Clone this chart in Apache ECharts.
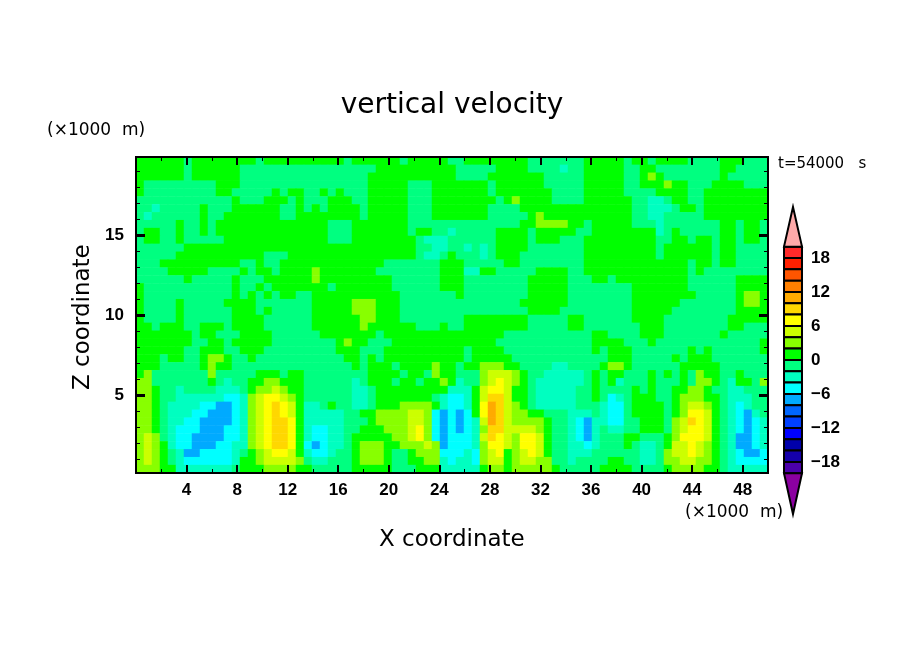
<!DOCTYPE html>
<html>
<head>
<meta charset="utf-8">
<style>
  html, body { margin: 0; padding: 0; background: #fff; }
  #chart { width: 904px; height: 654px; }
</style>
<script src="https://cdn.jsdelivr.net/npm/echarts@6/dist/echarts.min.js"></script>
</head>
<body>
<div id="chart"></div>
<script>
// contour bands, top to bottom
const levelEdges = [20, 18, 16, 14, 12, 10, 8, 6, 4, 2, 0, -2, -4, -6, -8, -10, -12, -14, -16, -18, -20];
const bandColors = ['#FF2A2A', '#FF2000', '#FF5500', '#FF8000', '#FFAA00', '#FFD700', '#FFFF00', '#CCFF00', '#88FF00', '#00FF00',
    '#00FF80', '#00FFC0', '#00FFFF', '#00AAFF', '#0066FF', '#0040FF', '#0000FF', '#0000AA', '#1500AA', '#4B00AA'];
const overColor = '#FFAAAA';
const underColor = '#8B00A0';

// one letter per cell, the middle of the band
const cellValues = {a: -7, b: -5, c: -3, '.': -1, o: 1, f: 3, g: 5, h: 7, i: 9, j: 11};

// x = 0-20 km (40 cells), rows from the top of the domain down
const westRows = [
    'oooooo.ooo ooooo.oooo oooooo.ooo ooo.ooooo.',
    'oooooo.ooo ooo....... .......... oooooooooo',
    'oooooo.ooo ooo....... .........o oooooooooo',
    'o......... ooo....... .........o oooo...ooo',
    'o......... oo.....o.o o..o.o...o oooo...ooo',
    '.......... ..o...ooo. o...ooo..o oooo...ooo',
    '..c.....o. ..oooooo.. o.o.oooo.o oooo...ooo',
    '.c......o. .ooooooo.. oooooooo.o oooo...ooo',
    '.....o..o. oooooooooo oooo...ooo oooo......',
    '.oo..o..o. oooooooooo oooo...ooo oooo.oo..c',
    '.oo..o.... .ooooooooo oooo...ooo ooooo.ccc.',
    '......oooo oooooooooo oooooooooo ooooo..cc.',
    '.....ooooo oooooo...o oooooooooo ooooo.cc.o',
    '...ooooooo ooo..o..oo oooooooooo o.......oo',
    '....ooooo. ...o.oo.oo oofooooooo ........oo',
    '......o... ..o...oooo oofooooooo oo......oo',
    'o......... ..o..o.ooo oooo.ooooo oo......oo',
    'o......... ..o.o.o.oo ..oooooooo ooo.......',
    'o....o.... .oooo..... ..ooooofff ooo.......',
    'o....o.... ..ooo.o... ..ooooofff ooo.......',
    'o....o.... ..oooo.... ..ooooooff ooo.......',
    'oo.ooo..oo o.oooo.... ..oooooofo ooooo...o.',
    'ooooooo.oo ...oooo... ...ooooooo .ooooooooo',
    'ooooooo..o o.ooooo... .....ofoo. ..oooooooo',
    'oooooo..oo o..ooo.... .....ooo.. .ooooooooo',
    'ooo.oo..of fo..o..... ......oo.o .ooooooooo',
    'ooo.....of oo........ .......o.o oo.oooofoo',
    'of.......f .....ooo.o o........o ooo.oo.foo',
    'ff.......o .c..ooffoo o......c.o oo.oo.oofo',
    'ffo..c.... ccc.offgfo o......cc. oooooooooc',
    'ffo..ccccc cbbcfghhgf o......cc. ooooooo.cb',
    'ffo.ccccbb aabcfghihg occ.o..cc. oooffffocb',
    'ffo.cccbba aabcfghihg occccc..oo ffffggfbab',
    'ffo.ccbbaa aabcfghiih occccc...o ffffggfbab',
    'ffo.cbbbaa abbcfghiih ocbbcc..oo offfghfbab',
    'fgf.cbbaaa abbcfghiih ocbbcc.ooo ooffghfbab',
    'fgfocbbaaa bbccfghiih obabcc.off foofffgfab',
    'fgfo.caabb bbc.ofghhg ocbbc..off fo..offfbb',
    'fgfo.cbbbb bbcoofgggg f.cc...off fo..ooffcb',
    'fffooccccc cc.oooffff oo.....ooo oo...ooocc'
];

// x = 20-50 km (39 cells), same rows
const eastRows = [
    '.oooooooo. ......oooo o.oo.oooo. ...ooo...',
    '.....oooo. ...c..oooo o..oo..... ...oo....',
    '....oooooo o.....oooo o..ofo.... ...o.....',
    'oooo.ooooo o.....oooo o..ooofoo. ..oooo...',
    'oooo.ooooo oo....oooo o....oooo. .oooooooo',
    'ooooo.ofoo oo....oooo oo..cc.oo. .oooooooo',
    'oooo....oo oooooooooo oo..ccc.oo .oooooooo',
    'oooo.....o fooooooooo oo..cc.... .oooooooo',
    '........oo ffffoo.ooo oo...c.... ...oo.oo.',
    '.....oooo. ooooo..ooo oooooc.o.. ...oo.oo.',
    '.....oooo. ooo...oooo ooooo..oo. oo.oo.oo.',
    '.c.c.oooo. ......oooo ooooo.oooo oo.oo....',
    '...c.ooo.. ......oooo ooooo.oooo oo.oo....',
    'o.....oo.. ......oooo ooooooooo. oo.oo....',
    'occoo..... oooo..oooo ooooooooo. o........',
    'o........o oooo...oo. ooooooooo. .....oooo',
    'o........o oooo...... ..ooooooo. .....oooo',
    'o........o oooo...... ..oooooooo .....offo',
    '........oo oooo...... ..oooooo.. .....offo',
    '.........o ooo....... ..ooooo... .....oooo',
    '.oooooooo. ....oo.... ..oooo.... ....ooooo',
    '.oooooooo. ....oo.... ...ooo.... ....oo...',
    'oooooo.... .......oo. ...ooo.... ...o.....',
    'ooooo..... .......ooo o...o..... ........o',
    'o.oooo.... .......o.o oo.......o .o......o',
    'o.ooooo... .........o oo.....o.o oo.......',
    '.oofffoo.. ..cc....of fo......oo ooo......',
    '...fgggfo. .ccccc.o.o o...o.o.o. foo..o...',
    'c..fghgfo. cccccc.o.o c...o...o. ffo.coo.f',
    'ccoghhgoo. ccccc..o.. ..o.o..oof fo..cc...',
    'bcogiigoo. ccccc..o.b c.ooo..off foo.ccc..',
    'bcohjigfo. ccccc...cb b.oooo.ofg gfo.cbc..',
    'abohjigffo o...ccc.cb b.oooo.ofh hgo.cbac.',
    'abcgjigfff fo..cbaccb b..ooo.fgi hgo.cbabc',
    'abcfiigggg fo..cbac.c c..ooo.fgh hgo.cbabc',
    'bbcgihgfhh go..cbac.. .oo...ofhh hgo.caabc',
    'bbcfhhgfhh go..ccbc.. .o.cc.oggh gfo.caabc',
    'bcbfghofgh go..ccc... ...cc.fggh gfo.cbaab',
    'ccbfggofgg ff..c....o o..cc.ffgg ffo.cbbbb',
    'cccoffofff ffo.....oo oo....offf foo.ccccc'
];

const xTicks = [4, 8, 12, 16, 20, 24, 28, 32, 36, 40, 44, 48];
const xMinorTicks = [2, 6, 10, 14, 18, 22, 26, 30, 34, 38, 42, 46];
const zTicks = [5, 10, 15];
const zMinorTicks = [1, 2, 3, 4, 6, 7, 8, 9, 11, 12, 13, 14, 16, 17, 18, 19];
const barTicks = [18, 12, 6, 0, -6, -12, -18];

const labelFont = '"Liberation Sans Narrow", "Liberation Sans"';
const plotFont = 'DejaVu Sans';

const rows = westRows.map((row, i) => (row + eastRows[i]).replace(/ /g, ''));
const cells = [];
rows.forEach((row, r) => {
    row.split('').forEach((ch, c) => cells.push([c, r, cellValues[ch]]));
});

const pieces = bandColors.map((color, i) => ({gte: levelEdges[i + 1], lt: levelEdges[i], color: color}));

// the colour bar: 20 boxes plus the two end arrows
const barItems = bandColors.map((color, i) => [levelEdges[i + 1], levelEdges[i], color, 'box']);
barItems.push([20, 27, overColor, 'arrow']);
barItems.push([-20, -27.2, underColor, 'arrow']);

function renderBar(params, api) {
    const lo = api.value(0);
    const hi = api.value(1);
    const item = barItems[params.dataIndex];
    const style = {fill: item[2], stroke: '#000', lineWidth: 2};
    if (item[3] === 'arrow') {
        return {
            type: 'polygon',
            shape: {points: [api.coord([0, lo]), api.coord([1, lo]), api.coord([0.5, hi])]},
            style: style
        };
    }
    const a = api.coord([0, hi]);
    const b = api.coord([1, lo]);
    return {type: 'rect', shape: {x: a[0], y: a[1], width: b[0] - a[0], height: b[1] - a[1]}, style: style};
}

// ticks point into the plot on all four sides
function frameAxis(position, range, ticks, length, width, labelled, margin) {
    return {
        type: 'value',
        position: position,
        min: range[0],
        max: range[1],
        z: 10,
        splitLine: {show: false},
        axisLine: {show: true, onZero: false, lineStyle: {color: '#000', width: 2}},
        axisTick: {show: true, inside: true, length: length, customValues: ticks, lineStyle: {color: '#000', width: width}},
        axisLabel: labelled
            ? {show: true, customValues: ticks, color: '#000', fontFamily: labelFont, fontWeight: 'bold', fontSize: 17, margin: margin}
            : {show: false}
    };
}

const xRange = [0, 50];
const zRange = [0.125, 19.875];

const option = {
    animation: false,
    backgroundColor: '#fff',
    title: {
        text: 'vertical velocity',
        left: 'center',
        top: 87,
        textStyle: {fontFamily: plotFont, fontWeight: 'normal', fontSize: 28, color: '#000'}
    },
    grid: [
        {left: 136, top: 157, width: 632, height: 316},
        {left: 784, top: 207, width: 18, height: 307}
    ],
    xAxis: [
        {type: 'category', show: false, data: rows[0].split('').map((_, i) => i)},
        frameAxis('bottom', xRange, xTicks, 8, 2, true, 9),
        frameAxis('bottom', xRange, xMinorTicks, 4, 1, false),
        frameAxis('top', xRange, xTicks, 8, 2, false),
        frameAxis('top', xRange, xMinorTicks, 4, 1, false),
        {type: 'value', gridIndex: 1, show: false, min: 0, max: 1}
    ],
    yAxis: [
        {type: 'category', show: false, inverse: true, data: rows.map((_, i) => i)},
        frameAxis('left', zRange, zTicks, 9, 3, true, 12),
        frameAxis('left', zRange, zMinorTicks, 4, 1, false),
        frameAxis('right', zRange, zTicks, 9, 3, false),
        frameAxis('right', zRange, zMinorTicks, 4, 1, false),
        {
            type: 'value',
            gridIndex: 1,
            position: 'right',
            min: -27.2,
            max: 27,
            splitLine: {show: false},
            axisLine: {show: false},
            axisTick: {show: false},
            axisLabel: {
                show: true,
                customValues: barTicks,
                margin: 9,
                color: '#000',
                fontFamily: labelFont,
                fontWeight: 'bold',
                fontSize: 17,
                formatter: v => String(v).replace('-', '\u2212')
            }
        }
    ],
    visualMap: {
        show: false,
        type: 'piecewise',
        seriesIndex: 0,
        dimension: 2,
        pieces: pieces
    },
    series: [
        {
            type: 'heatmap',
            xAxisIndex: 0,
            yAxisIndex: 0,
            data: cells,
            progressive: 0,
            silent: true
        },
        {
            type: 'custom',
            xAxisIndex: 5,
            yAxisIndex: 5,
            clip: false,
            silent: true,
            renderItem: renderBar,
            encode: {y: [0, 1]},
            data: barItems.map(b => [b[0], b[1]])
        }
    ],
    graphic: [
        {type: 'text', left: 47, top: 122, style: {text: '(\u00d71000  m)', font: '17px "' + plotFont + '"', fill: '#000'}},
        {type: 'text', left: 685, top: 504, style: {text: '(\u00d71000  m)', font: '17px "' + plotFont + '"', fill: '#000'}},
        {type: 'text', left: 778, top: 157, style: {text: 't=54000   s', font: '15px "' + plotFont + '"', fill: '#000'}},
        {type: 'text', left: 379, top: 529, style: {text: 'X coordinate', font: '23px "' + plotFont + '"', fill: '#000'}},
        {
            type: 'text',
            x: 72,
            y: 390,
            rotation: Math.PI / 2,
            style: {text: 'Z coordinate', font: '23px "' + plotFont + '"', fill: '#000'}
        }
    ]
};

const chart = echarts.init(document.getElementById('chart'));
chart.setOption(option);
</script>
</body>
</html>
